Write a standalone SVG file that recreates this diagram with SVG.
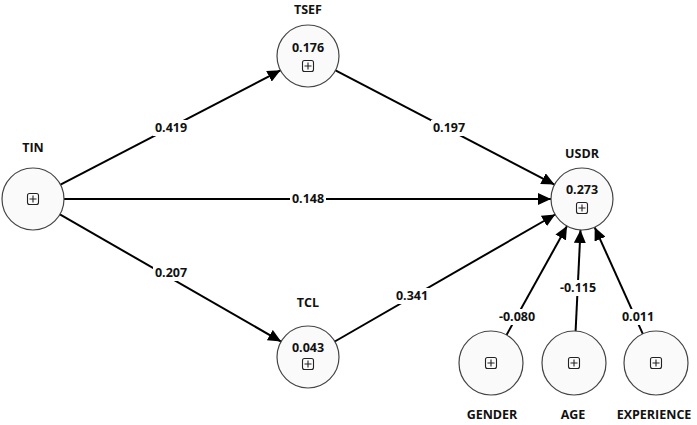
<svg xmlns="http://www.w3.org/2000/svg" width="697" height="425" viewBox="0 0 697 425">
<style>
.n{fill:#fafafa;stroke:#444;stroke-width:1.2}
.t{font-family:"Open Sans","Liberation Sans",sans-serif;font-weight:bold;font-size:12.5px;fill:#111;text-anchor:middle}
.e{stroke:#000;stroke-width:2;fill:none;marker-end:url(#ah)}
.lb{fill:#fff}
.ic{fill:none;stroke:#222;stroke-width:1.1}
</style>
<defs>
<marker id="ah" markerUnits="userSpaceOnUse" markerWidth="14" markerHeight="12" refX="13" refY="6" orient="auto">
<path d="M0,0 L13,6 L0,12 z" fill="#000"/>
</marker>
<g id="icon">
<rect x="-5.5" y="-5.5" width="11" height="11" rx="2" class="ic"/>
<path d="M-3.5,0 H3.5 M0,-3.5 V3.5" class="ic"/>
</g>
</defs>
<g id="connectors">
<line class="e" x1="60.5" y1="184.7" x2="280.5" y2="70.3"/>
<line class="e" x1="335.5" y1="70.3" x2="554.5" y2="184.6"/>
<line class="e" x1="64" y1="199" x2="551" y2="199"/>
<line class="e" x1="59.9" y1="214.4" x2="281.1" y2="341.6"/>
<line class="e" x1="334.8" y1="341.5" x2="555.2" y2="214.5"/>
<line class="e" x1="506.5" y1="335" x2="567" y2="226.1"/>
<line class="e" x1="575.6" y1="331" x2="580.5" y2="230"/>
<line class="e" x1="642.8" y1="333.8" x2="594.7" y2="227.3"/>
<rect class="lb" x="153" y="120" width="36" height="16"/><text class="t" x="171" y="132">0.419</text>
<rect class="lb" x="431" y="120" width="36" height="16"/><text class="t" x="449" y="132">0.197</text>
<rect class="lb" x="290" y="191" width="36" height="16"/><text class="t" x="308" y="203">0.148</text>
<rect class="lb" x="153" y="265" width="36" height="16"/><text class="t" x="171" y="277">0.207</text>
<rect class="lb" x="394" y="288" width="36" height="16"/><text class="t" x="412" y="300">0.341</text>
<rect class="lb" x="497" y="309" width="40" height="16"/><text class="t" x="517" y="321">-0.080</text>
<rect class="lb" x="558" y="280" width="40" height="16"/><text class="t" x="578" y="292">-0.115</text>
<rect class="lb" x="622" y="309" width="32" height="16"/><text class="t" x="638" y="321">0.011</text>
</g>
<g id="TSEF">
<text class="t" x="308" y="14">TSEF</text>
<circle class="n" cx="308" cy="56" r="31"/>
<text class="t" x="308" y="52">0.176</text>
<use href="#icon" x="308" y="66"/>
</g>
<g id="TIN">
<text class="t" x="33" y="152">TIN</text>
<circle class="n" cx="33" cy="199" r="31"/>
<use href="#icon" x="33" y="199"/>
</g>
<g id="USDR">
<text class="t" x="582" y="158">USDR</text>
<circle class="n" cx="582" cy="199" r="31"/>
<text class="t" x="582" y="194">0.273</text>
<use href="#icon" x="582" y="208"/>
</g>
<g id="TCL">
<text class="t" x="308" y="307">TCL</text>
<circle class="n" cx="308" cy="357" r="31"/>
<text class="t" x="308" y="352">0.043</text>
<use href="#icon" x="308" y="364"/>
</g>
<g id="GENDER">
<circle class="n" cx="491" cy="363" r="32"/>
<use href="#icon" x="491" y="363"/>
<text class="t" x="492" y="419">GENDER</text>
</g>
<g id="AGE">
<circle class="n" cx="574" cy="363" r="32"/>
<use href="#icon" x="574" y="363"/>
<text class="t" x="573" y="419">AGE</text>
</g>
<g id="EXPERIENCE">
<circle class="n" cx="656" cy="363" r="32"/>
<use href="#icon" x="656" y="363"/>
<text class="t" x="654" y="419">EXPERIENCE</text>
</g>
</svg>
